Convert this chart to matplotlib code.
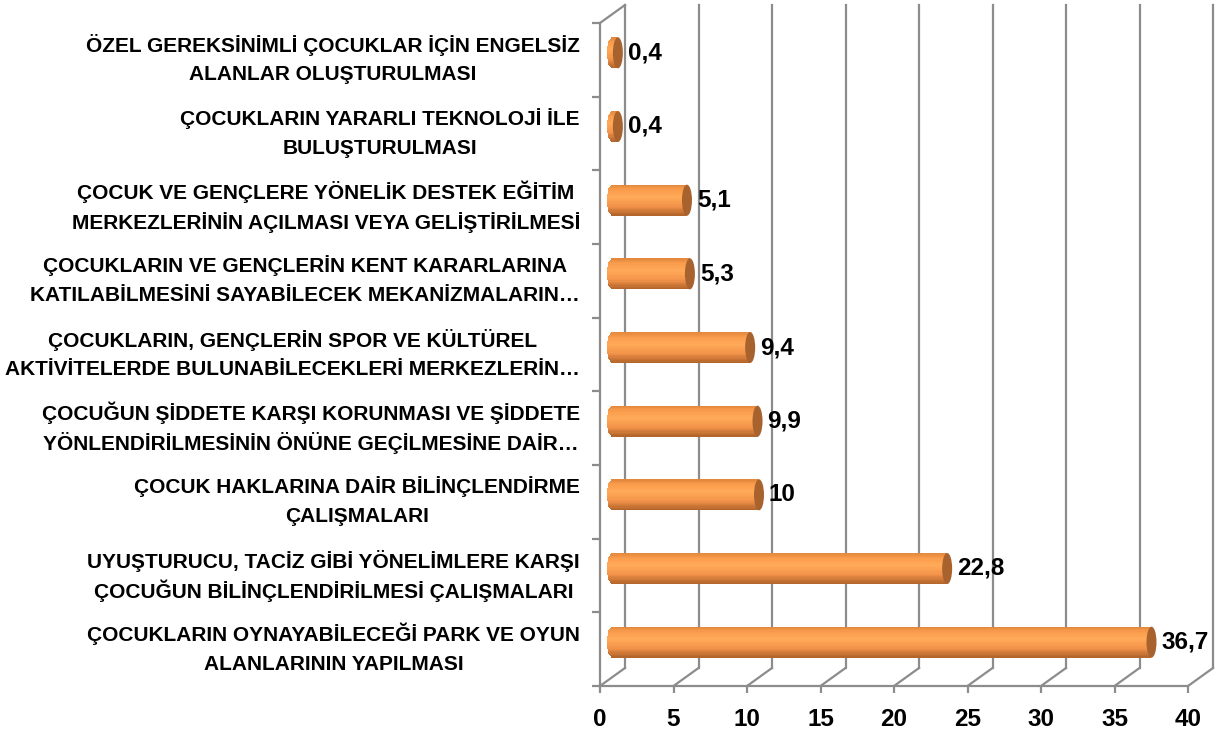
import matplotlib
matplotlib.use('Agg')
import matplotlib.pyplot as plt
import numpy as np
from matplotlib.patches import Ellipse
from matplotlib.transforms import ScaledTranslation
from matplotlib.colors import LinearSegmentedColormap

plt.rcParams['font.family'] = ['Liberation Sans', 'DejaVu Sans']
plt.rcParams['font.weight'] = 'bold'

# data (bottom -> top)
categories = [
    'ÇOCUKLARIN OYNAYABİLECEĞİ PARK VE OYUN\nALANLARININ YAPILMASI',
    'UYUŞTURUCU, TACİZ GİBİ YÖNELİMLERE KARŞI\nÇOCUĞUN BİLİNÇLENDİRİLMESİ ÇALIŞMALARI',
    'ÇOCUK HAKLARINA DAİR BİLİNÇLENDİRME\nÇALIŞMALARI',
    'ÇOCUĞUN ŞİDDETE KARŞI KORUNMASI VE ŞİDDETE\nYÖNLENDİRİLMESİNİN ÖNÜNE GEÇİLMESİNE DAİR…',
    'ÇOCUKLARIN, GENÇLERİN SPOR VE KÜLTÜREL\nAKTİVİTELERDE BULUNABİLECEKLERİ MERKEZLERİN…',
    'ÇOCUKLARIN VE GENÇLERİN KENT KARARLARINA\nKATILABİLMESİNİ SAYABİLECEK MEKANİZMALARIN…',
    'ÇOCUK VE GENÇLERE YÖNELİK DESTEK EĞİTİM\nMERKEZLERİNİN AÇILMASI VEYA GELİŞTİRİLMESİ',
    'ÇOCUKLARIN YARARLI TEKNOLOJİ İLE\nBULUŞTURULMASI',
    'ÖZEL GEREKSİNİMLİ ÇOCUKLAR İÇİN ENGELSİZ\nALANLAR OLUŞTURULMASI',
]
values = [36.7, 22.8, 10, 9.9, 9.4, 5.3, 5.1, 0.4, 0.4]
xticks = [0, 5, 10, 15, 20, 25, 30, 35, 40]

W, H, dpi = 1218, 738, 100
fig = plt.figure(figsize=(W / dpi, H / dpi), dpi=dpi)
L, R, T, B = 600, 1188, 23, 686
ax = fig.add_axes([L / W, (H - B) / H, (R - L) / W, (B - T) / H])
n = len(categories)
ax.set_xlim(0, 40)
ax.set_ylim(-0.5, n - 0.5)
for s in ax.spines.values():
    s.set_visible(False)

grid = '#8c8c8c'
glw = 1.6
# depth of the 3d box, in data units
pxx = 40 / (R - L)
pxy = n / (B - T)
dx, dy = 25 * pxx, 18 * pxy

# back wall gridlines
for x in xticks:
    ax.plot([x + dx, x + dx], [-0.5 + dy, n - 0.5 + dy], color=grid, lw=glw, clip_on=False, zorder=1)
    ax.plot([x, x + dx], [-0.5, -0.5 + dy], color=grid, lw=glw, clip_on=False, zorder=1)
# floor front edge and left wall
ax.plot([0, 40], [-0.5, -0.5], color=grid, lw=glw, clip_on=False, zorder=1)
ax.plot([0, 0], [-0.5, n - 0.5], color=grid, lw=glw, clip_on=False, zorder=1)
ax.plot([0, dx], [n - 0.5, n - 0.5 + dy], color=grid, lw=glw, clip_on=False, zorder=1)

# ticks
ax.set_xticks(xticks)
ax.set_xticklabels([str(x) for x in xticks], fontsize=17.5, fontweight='bold')
ax.tick_params(axis='x', length=5, width=glw, color=grid, pad=11)
ax.set_yticks(range(n))
ax.set_yticklabels([])
ax.tick_params(axis='y', which='major', length=0)
ax.set_yticks(np.arange(-0.5, n, 1), minor=True)
ax.tick_params(axis='y', which='minor', length=6, width=glw, color=grid)

# category labels: block right aligned, lines centred, even line spacing
fig.canvas.draw()
rend = fig.canvas.get_renderer()
right_px = 580
line_gap = 30
lab_fs = 15
for y, cat in zip(range(n), categories):
    lines = cat.split('\n')
    yc = ax.transData.transform((0, y))[1]
    texts = []
    for i, ln in enumerate(lines):
        ypx = yc + line_gap * ((len(lines) - 1) / 2 - i)
        t = fig.text(0, ypx / H, ln, fontsize=lab_fs, fontweight='bold', ha='center', va='center')
        texts.append(t)
    widths = [t.get_window_extent(rend).width for t in texts]
    cx = right_px - max(widths) / 2
    for t in texts:
        t.set_x(cx / W)

# cylinder bars, placed at mid depth
mid = ax.transData + ScaledTranslation(12 / dpi, 7 / dpi, fig.dpi_scale_trans)
h = 31 * pxy
cmap = LinearSegmentedColormap.from_list('cyl', [(0, '#E4883E'), (0.15, '#F99C4C'), (0.4, '#FFAA58'),
                                                 (0.7, '#F3934A'), (1, '#B3652B')])
ypos = np.arange(n)
cw = 10 * pxx
vals = np.array(values)
ns = 24
for k in range(ns):
    off = h / 2 - (k + 0.5) * h / ns
    # rounded left end of the cylinder
    hw = cw / 2 * np.sqrt(max(0.0, 1 - (off / (h / 2)) ** 2))
    bars = ax.barh(ypos + off, vals + hw, left=-hw, height=h / ns * 1.08,
                   color=cmap(k / (ns - 1)), linewidth=0, zorder=4)
    for p in bars:
        p.set_transform(mid)
        p.set_clip_on(False)
for y, v in zip(ypos, values):
    e = Ellipse((v, y), cw, h, facecolor='#A8622E', edgecolor='none', transform=mid, zorder=5)
    ax.add_patch(e)
    lab = f'{v:g}'.replace('.', ',')
    ax.annotate(lab, (v + cw / 2, y), xycoords=mid, xytext=(5, 0), textcoords='offset pixels',
                ha='left', va='center', fontsize=17.5, fontweight='bold', zorder=6)

fig.savefig('out.png', dpi=dpi)
